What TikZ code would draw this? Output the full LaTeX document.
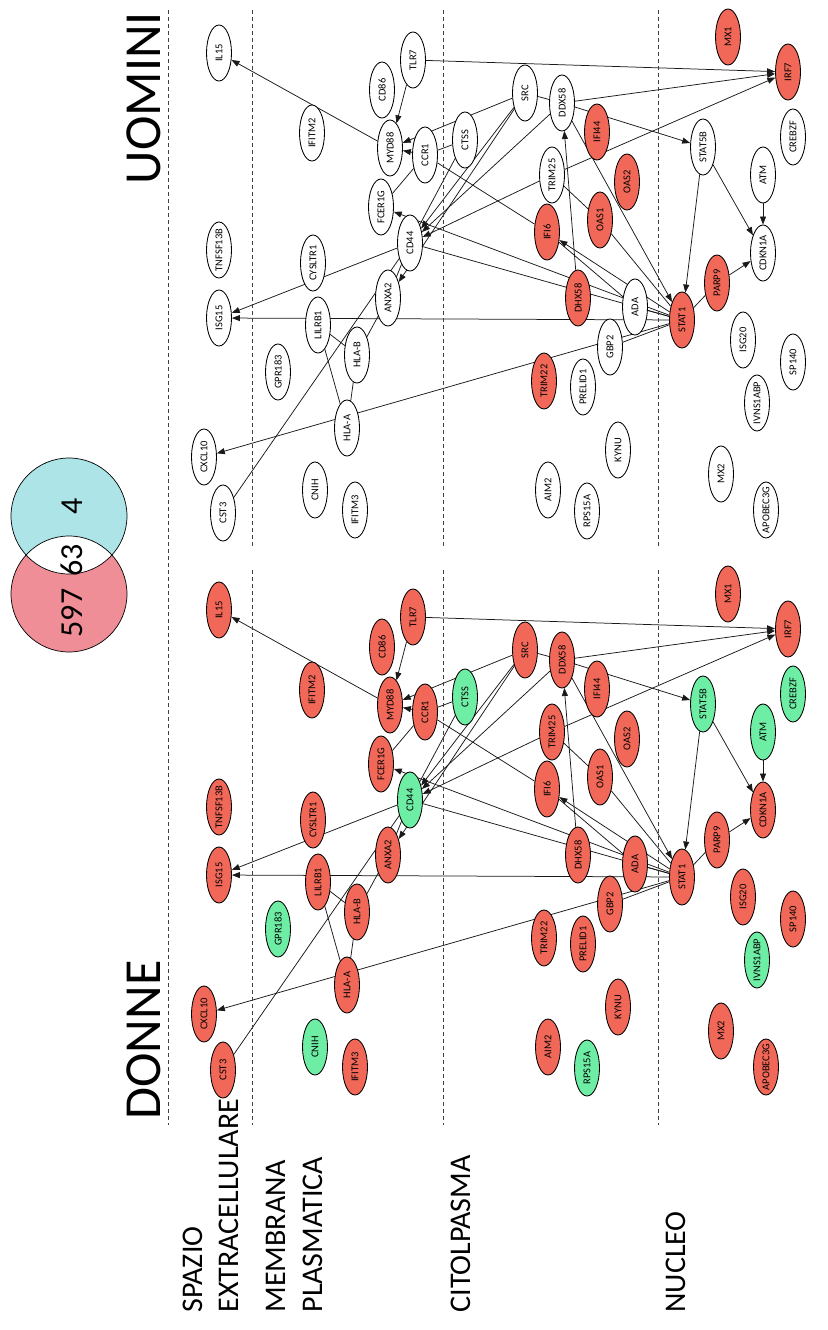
\documentclass[tikz,border=0pt]{standalone}
\usepackage{fontspec}
\setmainfont{Carlito}
\usetikzlibrary{shapes.geometric,arrows.meta}
\pgfdeclarelayer{bg}
\pgfsetlayers{bg,main}
\definecolor{nred}{RGB}{242,104,88}
\definecolor{ngreen}{RGB}{110,238,165}
\definecolor{vcyan}{RGB}{172,228,232}
\definecolor{vpink}{RGB}{240,142,152}
\newcommand\gn[6]{%
  \node[gnode, fill=#5] (u#1) at ({#2},{#3}) {\makebox[0pt]{#4}};
  \node[gnode, fill=#6] (d#1) at ({#2},{#3+557}) {\makebox[0pt]{#4}};}
\newcommand\ed[3][]{%
  \draw[edge,#1] (u#2) -- (u#3);
  \draw[edge,#1] (d#2) -- (d#3);}
\begin{document}
\begin{tikzpicture}[x=1pt,y=-1pt,
  gnode/.style={ellipse, draw=black, line width=0.85pt, minimum width=56pt,
    minimum height=25pt, inner sep=0pt, rotate=90,
    font=\fontsize{10.5}{10.5}\selectfont},
  edge/.style={draw=black!90, line width=0.75pt},
  arr/.style={-{Triangle[length=8pt,width=6pt]}},
  layer/.style={draw=black!75, line width=0.65pt, dash pattern=on 4pt off 3pt},
  title/.style={rotate=90, anchor=base, font=\fontsize{52}{52}\selectfont},
  lab/.style={rotate=90, anchor=base west, font=\fontsize{30}{36}\selectfont},
  venn/.style={rotate=90, anchor=base, font=\fontsize{32}{32}\selectfont}]
\useasboundingbox (0,0) rectangle (827,1330);
% layer boundaries
\draw[layer] (168,10) -- (168,1125);
\foreach \xx in {252,443,658}{
  \draw[layer] (\xx,10) -- (\xx,548);
  \draw[layer] (\xx,570) -- (\xx,1125);}
% titles
\node[title] (tU) at (160,98) {UOMINI};
\node[title] (tD) at (160,1040) {DONNE};
% layer labels
\node[lab] (l1) at (202,1316) {SPAZIO};
\node[lab] (l2) at (238,1316) {EXTRACELLULARE};
\node[lab] (l3) at (285,1316) {MEMBRANA};
\node[lab] (l4) at (322,1316) {PLASMATICA};
\node[lab] (l5) at (470,1316) {CITOLPASMA};
\node[lab] (l6) at (685,1316) {NUCLEO};
% Venn
\fill[vpink] (69,594) circle (58);
\fill[vcyan] (69,516) circle (58);
\begin{scope}
  \clip (69,594) circle (58);
  \fill[white] (69,516) circle (58);
\end{scope}
\draw[line width=0.7pt] (69,594) circle (58);
\draw[line width=0.7pt] (69,516) circle (58);
\node[venn] (v1) at (82,506) {4};
\node[venn] (v2) at (82,560) {63};
\node[venn] (v3) at (82,613) {597};
% nodes
\gn{IL15}{219}{53}{IL15}{white}{nred}
\gn{TNFSF13B}{219}{250}{TNFSF13B}{white}{nred}
\gn{ISG15}{219}{318}{ISG15}{white}{nred}
\gn{CXCL10}{204}{457}{CXCL10}{white}{nred}
\gn{CST3}{223}{513}{CST3}{white}{nred}
\gn{IFITM2}{312}{133}{IFITM2}{white}{nred}
\gn{CYSLTR1}{313}{263}{CYSLTR1}{white}{nred}
\gn{LILRB1}{318}{325}{LILRB1}{white}{nred}
\gn{GPR183}{278}{372}{GPR183}{white}{ngreen}
\gn{HLAB}{357}{355}{HLA-B}{white}{nred}
\gn{HLAA}{347}{428}{HLA-A}{white}{nred}
\gn{CNIH}{315}{490}{CNIH}{white}{ngreen}
\gn{IFITM3}{355}{510}{IFITM3}{white}{nred}
\gn{CD86}{382}{90}{CD86}{white}{nred}
\gn{TLR7}{413}{60}{TLR7}{white}{nred}
\gn{MYD88}{390}{148}{MYD88}{white}{nred}
\gn{CCR1}{425}{155}{CCR1}{white}{nred}
\gn{FCER1G}{381}{207}{FCER1G}{white}{nred}
\gn{CD44}{410}{243}{CD44}{white}{ngreen}
\gn{ANXA2}{388}{298}{ANXA2}{white}{nred}
\gn{CTSS}{465}{140}{CTSS}{white}{ngreen}
\gn{SRC}{525}{93}{SRC}{white}{nred}
\gn{DDX58}{562}{103}{DDX58}{white}{nred}
\gn{IFI44}{597}{132}{IFI44}{nred}{nred}
\gn{OAS2}{627}{182}{OAS2}{nred}{nred}
\gn{TRIM25}{552}{175}{TRIM25}{white}{nred}
\gn{OAS1}{600}{220}{OAS1}{nred}{nred}
\gn{IFI6}{547}{232}{IFI6}{nred}{nred}
\gn{DHX58}{578}{298}{DHX58}{nred}{nred}
\gn{ADA}{635}{307}{ADA}{white}{nred}
\gn{GBP2}{610}{347}{GBP2}{white}{nred}
\gn{TRIM22}{544}{381}{TRIM22}{nred}{nred}
\gn{PRELID1}{583}{387}{PRELID1}{white}{nred}
\gn{KYNU}{618}{450}{KYNU}{white}{nred}
\gn{AIM2}{548}{490}{AIM2}{white}{nred}
\gn{RPS15A}{587}{511}{RPS15A}{white}{ngreen}
\gn{MX1}{728}{37}{MX1}{nred}{nred}
\gn{IRF7}{788}{72}{IRF7}{nred}{nred}
\gn{CREBZF}{793}{137}{CREBZF}{white}{ngreen}
\gn{STAT5B}{703}{147}{STAT5B}{white}{ngreen}
\gn{ATM}{763}{175}{ATM}{white}{ngreen}
\gn{CDKN1A}{763}{253}{CDKN1A}{white}{nred}
\gn{STAT1}{682}{320}{STAT1}{nred}{nred}
\gn{PARP9}{717}{283}{PARP9}{nred}{nred}
\gn{ISG20}{743}{340}{ISG20}{white}{nred}
\gn{SP140}{793}{362}{SP140}{white}{nred}
\gn{IVNS1ABP}{757}{403}{IVNS1ABP}{white}{ngreen}
\gn{MX2}{721}{474}{MX2}{white}{nred}
\gn{APOBEC3G}{766}{510}{APOBEC3G}{white}{nred}
% edges
\begin{pgfonlayer}{bg}
\ed[arr]{MYD88}{IL15}
\ed[arr]{TLR7}{MYD88}
\ed[arr]{SRC}{MYD88}
\ed[arr]{CCR1}{MYD88}
\ed{FCER1G}{CCR1}
\ed{CTSS}{CCR1}
\ed[arr]{TLR7}{IRF7}
\ed[arr]{DDX58}{IRF7}
\ed[arr]{TRIM25}{IRF7}
\ed{SRC}{DDX58}
\ed[arr]{DDX58}{STAT5B}
\ed[arr]{DDX58}{STAT1}
\ed[arr]{DHX58}{DDX58}
\ed[arr]{STAT5B}{STAT1}
\ed[arr]{STAT5B}{CDKN1A}
\ed[arr]{ATM}{CDKN1A}
\ed[arr]{PARP9}{CDKN1A}
\ed{STAT1}{PARP9}
\ed{TRIM25}{OAS1}
\ed{OAS1}{STAT1}
\ed[arr]{STAT1}{IFI6}
\ed{ADA}{IFI6}
\ed{ADA}{STAT1}
\ed{GBP2}{STAT1}
\ed[arr]{STAT1}{ISG15}
\ed[arr]{STAT1}{CXCL10}
\ed[arr]{CD44}{ISG15}
\ed{CST3}{CD44}
\ed{LILRB1}{HLAA}
\ed{LILRB1}{HLAB}
\ed{HLAB}{HLAA}
\ed{HLAB}{ANXA2}
\ed[arr]{SRC}{CD44}
\ed[arr]{DDX58}{CD44}
\ed[arr]{TRIM25}{CD44}
\ed{CTSS}{CD44}
\ed[arr]{SRC}{ANXA2}
\ed{CD44}{ANXA2}
\ed{CCR1}{IFI6}
\ed[arr]{STAT1}{FCER1G}
\ed{CD44}{STAT1}
\end{pgfonlayer}
\end{tikzpicture}
\end{document}
